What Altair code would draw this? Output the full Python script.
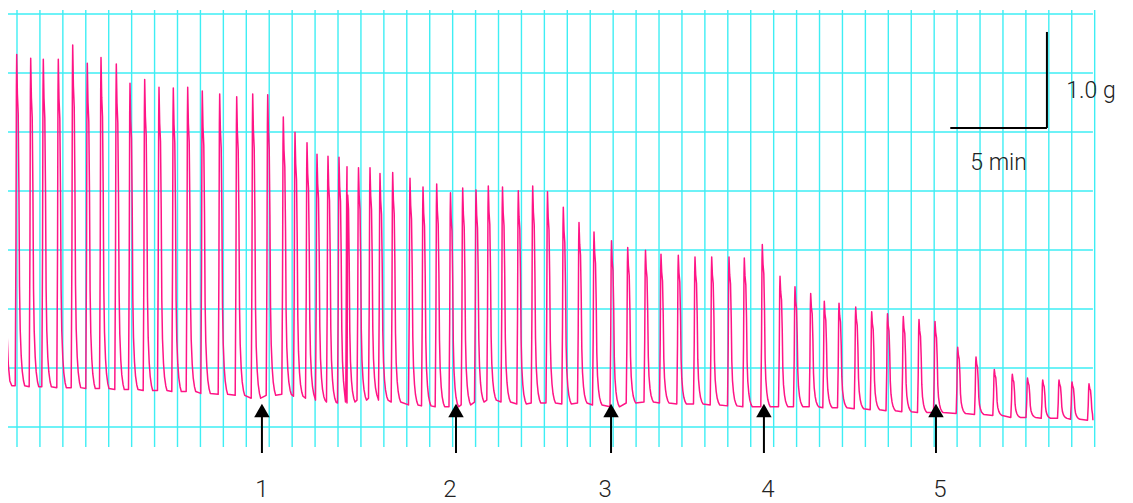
import altair as alt
import pandas as pd
import numpy as np

# ---------------- data read from the recording ----------------
# time of each contraction peak (min from start of trace)
peak_t = [0.554, 1.278, 1.930, 2.706, 3.451, 4.206, 4.915, 5.706, 6.415, 7.175,
          7.915, 8.655, 9.400, 10.155, 11.055, 11.935, 12.763, 13.539, 14.346, 14.951,
          15.572, 16.089, 16.658, 17.227, 17.641, 18.236, 18.831, 19.348, 20.005, 20.900,
          21.573, 22.281, 22.995, 23.626, 24.315, 24.951, 25.686, 26.503, 27.248, 28.013,
          28.831, 29.643, 30.419, 31.324, 32.163, 33.083, 33.885, 34.780, 35.644, 36.508,
          37.403, 38.195, 39.126, 40.042, 40.817, 41.629, 42.333, 43.094, 43.958, 44.785,
          45.603, 46.420, 47.232, 48.060, 49.234, 50.181, 51.128, 52.059, 52.845, 53.632,
          54.475, 55.148, 56.027]
# peak tension (g, above lowest chart line)
peak_g = [3.88, 3.84, 3.83, 3.83, 3.98, 3.79, 3.85, 3.78, 3.58, 3.62,
          3.54, 3.53, 3.54, 3.50, 3.47, 3.44, 3.47, 3.46, 3.23, 3.07,
          2.96, 2.84, 2.82, 2.81, 2.71, 2.70, 2.70, 2.64, 2.65, 2.59,
          2.50, 2.53, 2.44, 2.49, 2.47, 2.51, 2.50, 2.46, 2.51, 2.45,
          2.29, 2.13, 2.03, 1.94, 1.87, 1.84, 1.80, 1.79, 1.77, 1.77,
          1.77, 1.76, 1.90, 1.57, 1.46, 1.39, 1.31, 1.29, 1.25, 1.20,
          1.18, 1.15, 1.12, 1.10, 0.83, 0.73, 0.60, 0.55, 0.51, 0.49,
          0.49, 0.47, 0.45]
# resting tension before each contraction (g)
base_g = [0.43, 0.42, 0.42, 0.41, 0.41, 0.40, 0.40, 0.39, 0.39, 0.38,
          0.38, 0.37, 0.37, 0.35, 0.34, 0.33, 0.30, 0.33, 0.34, 0.32,
          0.30, 0.28, 0.26, 0.25, 0.26, 0.28, 0.30, 0.28, 0.26, 0.23,
          0.22, 0.21, 0.21, 0.23, 0.26, 0.28, 0.26, 0.24, 0.25, 0.25,
          0.24, 0.25, 0.23, 0.21, 0.25, 0.26, 0.25, 0.24, 0.24, 0.23,
          0.22, 0.21, 0.21, 0.21, 0.21, 0.21, 0.20, 0.20, 0.19, 0.18,
          0.17, 0.16, 0.15, 0.15, 0.14, 0.13, 0.12, 0.10, 0.10, 0.09,
          0.09, 0.08, 0.07]
# start of the trace (tail of a contraction already in progress)
start_t = [0.0, 0.06, 0.12, 0.2, 0.3]
start_g = [1.58, 0.95, 0.65, 0.48, 0.43]
trace_end_t = 56.23
trace_end_g = 0.07

# shape of one contraction (time offset from peak in min, fraction of amplitude)
shape_dt = [-0.078, -0.041, -0.016, 0.0, 0.036, 0.078, 0.114, 0.145, 0.181, 0.233, 0.285, 0.352, 0.414]
shape_frac = [0.0, 0.40, 0.90, 1.0, 0.88, 0.82, 0.60, 0.30, 0.17, 0.09, 0.045, 0.015, 0.0]

# stimulus markers
arrow_t = [13.24, 23.28, 31.30, 39.21, 48.11]
label_t = [13.24, 22.97, 30.99, 39.42, 48.32]
arrow_labels = ["1", "2", "3", "4", "5"]

# calibration bars
bar_min = 5.0
bar_g = 1.0

# ---------------- chart paper ----------------
V_FIRST, V_STEP, V_COUNT = 0.569, 1.1862, 48
H_STEP, H_COUNT = 0.6146, 8
V_TOP, V_BOTTOM = 4.344, -0.208

# build trace
pts = list(zip(start_t, start_g))
for t, p, b in zip(peak_t, peak_g, base_g):
    a = p - b
    for dt, f in zip(shape_dt, shape_frac):
        tt = t + dt
        if tt <= trace_end_t:
            pts.append((tt, b + f * a))
pts.append((trace_end_t, trace_end_g))
trace = pd.DataFrame(pts, columns=["t", "g"]).sort_values("t", kind="stable").reset_index(drop=True)
trace["i"] = range(len(trace))

vgrid = pd.DataFrame({"t": [V_FIRST + V_STEP * k for k in range(V_COUNT)]})
vgrid["y1"] = V_BOTTOM
vgrid["y2"] = V_TOP
hgrid = pd.DataFrame({"g": [H_STEP * j for j in range(H_COUNT)]})
hgrid["x1"] = 0.0
hgrid["x2"] = trace_end_t

x_scale = alt.Scale(domain=[0.1035, 57.889], nice=False, zero=False)
y_scale = alt.Scale(domain=[-0.7917, 4.3646], nice=False, zero=False)

GRID = "#3eeef4"
PINK = "#ff1486"
FONT = "Roboto"

vg = alt.Chart(vgrid).mark_rule(color=GRID, strokeWidth=1.4).encode(
    x=alt.X("t:Q", scale=x_scale, axis=None),
    y=alt.Y("y1:Q", scale=y_scale, axis=None),
    y2="y2:Q")
hg = alt.Chart(hgrid).mark_rule(color=GRID, strokeWidth=1.4).encode(
    y=alt.Y("g:Q", scale=y_scale, axis=None),
    x=alt.X("x1:Q", scale=x_scale, axis=None),
    x2="x2:Q")

line = alt.Chart(trace).mark_line(color=PINK, strokeWidth=1.5, strokeJoin="round").encode(
    x=alt.X("t:Q", scale=x_scale, axis=None),
    y=alt.Y("g:Q", scale=y_scale, axis=None),
    order="i:Q")

# calibration bars (bottom-right corner at the end of the 5-min bar)
cal_x_end = 53.85
cal_y0 = 3.115
calv = pd.DataFrame({"x": [cal_x_end], "y1": [cal_y0], "y2": [cal_y0 + bar_g]})
calh = pd.DataFrame({"x1": [cal_x_end - bar_min], "x2": [cal_x_end], "y": [cal_y0]})
cv = alt.Chart(calv).mark_rule(color="black", strokeWidth=2).encode(
    x=alt.X("x:Q", scale=x_scale, axis=None), y=alt.Y("y1:Q", scale=y_scale, axis=None), y2="y2:Q")
ch = alt.Chart(calh).mark_rule(color="black", strokeWidth=2).encode(
    x=alt.X("x1:Q", scale=x_scale, axis=None), x2="x2:Q", y=alt.Y("y:Q", scale=y_scale, axis=None))

cal_text = pd.DataFrame({"x": [cal_x_end + 1.0, cal_x_end - bar_min / 2],
                         "y": [cal_y0 + bar_g * 0.39, cal_y0 - 0.37],
                         "label": [f"{bar_g:.1f} g", f"{bar_min:g} min"]})
ct1 = alt.Chart(cal_text.iloc[[0]]).mark_text(align="left", baseline="middle", fontSize=23,
                                               font=FONT, fontWeight=300, color="#222").encode(
    x=alt.X("x:Q", scale=x_scale, axis=None), y=alt.Y("y:Q", scale=y_scale, axis=None), text="label:N")
ct2 = alt.Chart(cal_text.iloc[[1]]).mark_text(align="center", baseline="middle", fontSize=23,
                                               font=FONT, fontWeight=300, color="#222").encode(
    x=alt.X("x:Q", scale=x_scale, axis=None), y=alt.Y("y:Q", scale=y_scale, axis=None), text="label:N")

arrows = pd.DataFrame({"t": arrow_t, "lt": label_t, "label": arrow_labels})
arrows["y1"] = -0.271
arrows["y2"] = 0.125
arrows["head"] = 0.172
arrows["ly"] = -0.656

shaft = alt.Chart(arrows).mark_rule(color="black", strokeWidth=2).encode(
    x=alt.X("t:Q", scale=x_scale, axis=None), y=alt.Y("y1:Q", scale=y_scale, axis=None), y2="y2:Q")
head = alt.Chart(arrows).mark_point(shape="triangle-up", filled=True, color="black", size=240, opacity=1).encode(
    x=alt.X("t:Q", scale=x_scale, axis=None), y=alt.Y("head:Q", scale=y_scale, axis=None))
labels = alt.Chart(arrows).mark_text(align="center", baseline="middle", fontSize=24,
                                     font=FONT, fontWeight=300, color="#222").encode(
    x=alt.X("lt:Q", scale=x_scale, axis=None), y=alt.Y("ly:Q", scale=y_scale, axis=None), text="label:N")

chart = alt.layer(vg, hg, line, cv, ch, ct1, ct2, shaft, head, labels).properties(
    width=1117, height=495, padding=0, autosize=alt.AutoSizeParams(type="none")
).configure_view(stroke=None)

chart.save("out.html", embed_options={"renderer": "svg", "actions": False})
